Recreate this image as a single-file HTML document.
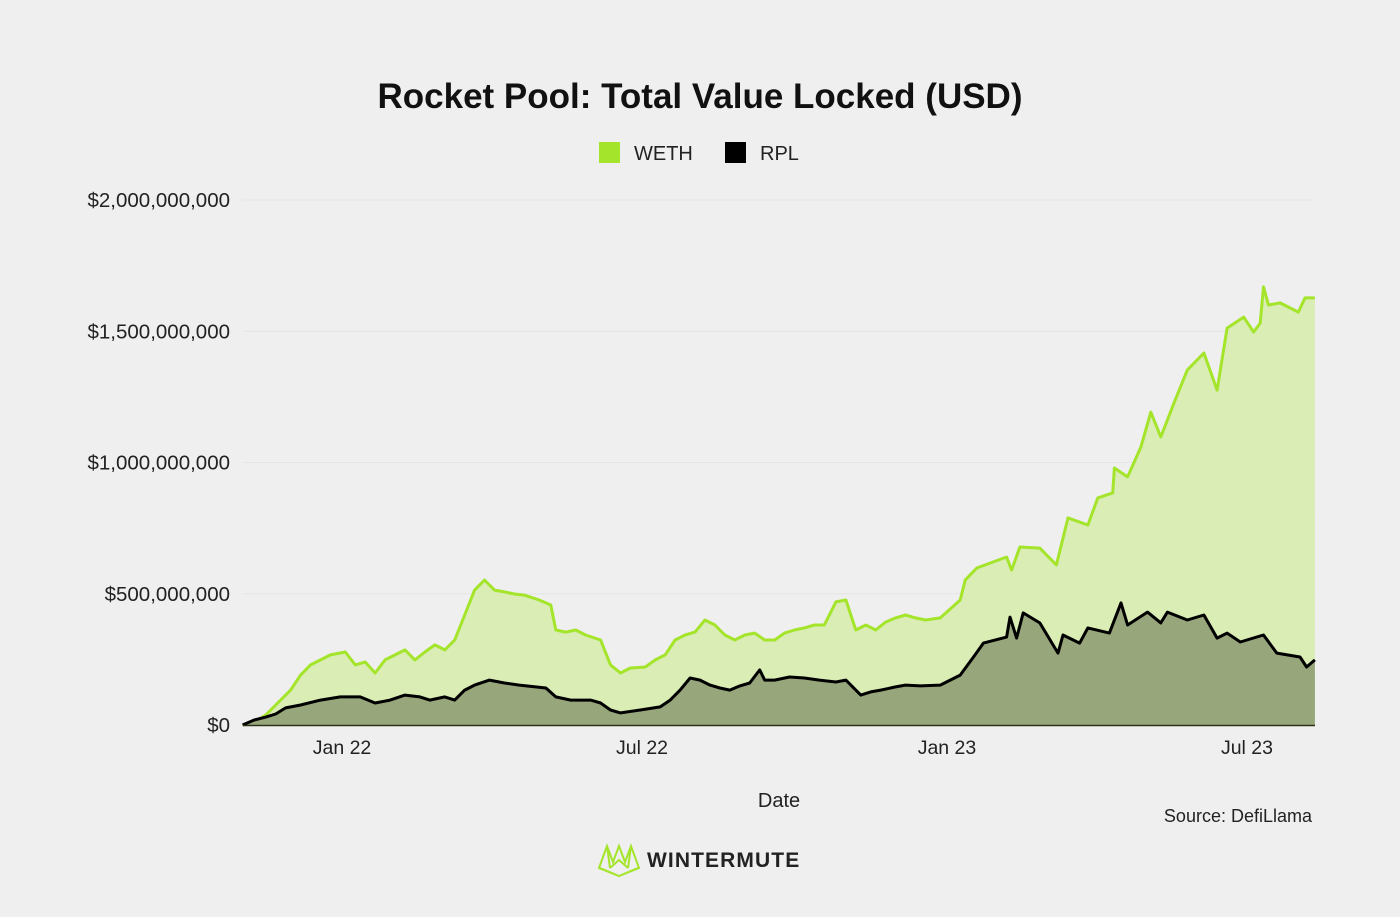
<!DOCTYPE html>
<html><head><meta charset="utf-8"><style>
html,body{margin:0;padding:0;background:#efefef;}
body{width:1400px;height:917px;overflow:hidden;font-family:"Liberation Sans",sans-serif;}
</style></head><body>
<svg id="chart" width="1400" height="917" xmlns="http://www.w3.org/2000/svg" style="position:absolute;left:0;top:0">
<rect width="1400" height="917" fill="#efefef"/>
<text x="700" y="108" text-anchor="middle" font-size="35" font-weight="bold" fill="#111">Rocket Pool: Total Value Locked (USD)</text>
<g>
<rect x="599" y="142" width="21" height="21" fill="#a4e52b"/>
<text x="634" y="160" font-size="20" fill="#222">WETH</text>
<rect x="725" y="142" width="21" height="21" fill="#000"/>
<text x="760" y="160" font-size="20" fill="#222">RPL</text>
</g>
<g id="grid"></g>
<g id="areas"></g>
<g id="yticks"></g>
<g id="xticks"></g>
<text x="779" y="807" text-anchor="middle" font-size="20" fill="#222">Date</text>
<text x="1312" y="822" text-anchor="end" font-size="18" fill="#222">Source: DefiLlama</text>
<g fill="none" stroke="#a4e52b" stroke-width="2">
<path d="M599 868 L607 846 L613 862 L619 846 L625 862 L631 846 L639 868 L619 876 Z M607 846 L610 868 M631 846 L628 868 M610 868 L619 860 L628 868 M600 868 L619 876 L638 868"/>
</g>
<text x="647" y="867" font-size="21" font-weight="bold" letter-spacing="1.1" fill="#222">WINTERMUTE</text>
</svg>
<script>
// day offsets from 2022-01-01; values in millions USD
const wethDays=[-60,-53,-46,-40,-31,-25,-19,-13,-7,2,8,14,20,26,32,38,44,50,56,62,68,74,80,86,92,98,104,110,119,126,129,135,141,147,156,162,168,174,183,189,195,201,207,213,219,225,231,237,243,249,255,261,267,273,279,285,291,298,304,310,316,322,328,334,340,346,352,361,373,376,383,401,404,409,421,431,438,450,456,465,466,474,482,488,494,502,510,520,528,534,544,550,554,556,559,566,577,581,587];
const wethVals=[0,11,38,76,133,190,229,248,267,278,229,240,198,248,267,286,248,278,305,286,324,419,514,552,514,507,499,495,476,457,362,354,362,343,324,229,198,217,221,248,267,324,343,354,400,381,343,324,343,350,324,324,350,362,370,381,381,469,476,362,381,362,392,408,419,408,400,408,476,552,598,640,590,678,674,610,789,762,865,884,979,945,1059,1192,1097,1227,1352,1417,1276,1512,1554,1497,1531,1669,1600,1608,1573,1627,1627];
const rplDays=[-60,-53,-46,-40,-34,-25,-13,-1,11,20,29,38,47,53,62,68,74,80,89,98,107,123,129,138,150,156,162,168,180,192,198,204,210,216,222,228,234,240,246,252,255,261,270,279,288,298,304,310,313,319,325,334,340,349,361,373,381,387,401,403,407,411,421,432,435,445,450,463,470,474,486,494,498,510,520,528,534,542,556,564,578,582,587];
const rplVals=[0,19,30,42,65,76,95,107,107,84,95,114,107,95,107,95,133,152,171,160,152,141,107,95,95,84,57,46,57,69,95,133,179,171,152,141,133,149,160,210,171,171,183,179,171,164,171,133,114,126,133,145,152,149,152,190,259,312,335,411,331,427,389,274,343,312,370,350,465,381,430,389,430,400,419,331,350,316,343,274,259,221,248];
const yTickVals=[0,500,1000,1500,2000];
const yTickLabels=["$0","$500,000,000","$1,000,000,000","$1,500,000,000","$2,000,000,000"];
const xTickDays=[0,181,365,546];
const xTickLabels=["Jan 22","Jul 22","Jan 23","Jul 23"];

const NS="http://www.w3.org/2000/svg";
const X0=243,X1=1315;
const xs=d=>342+d*(300/181);
const ys=v=>725-v*(525/2000);
function mk(tag,attrs,parent){const e=document.createElementNS(NS,tag);for(const k in attrs)e.setAttribute(k,attrs[k]);parent.appendChild(e);return e;}
const grid=document.getElementById('grid'),areas=document.getElementById('areas'),yt=document.getElementById('yticks'),xt=document.getElementById('xticks');
yTickVals.forEach((v,i)=>{
  if(v>0){const l=mk('line',{x1:X0,x2:X1,y1:ys(v),y2:ys(v),stroke:'#e6e6e6','stroke-width':1},grid);
  
  }
  const t=mk('text',{x:230,y:ys(v)+7,'text-anchor':'end','font-size':20.5,fill:'#222'},yt);
  t.textContent=yTickLabels[i];
  
  
});
xTickDays.forEach((d,i)=>{
  const t=mk('text',{x:xs(d),y:754,'text-anchor':'middle','font-size':19.5,fill:'#222'},xt);
  t.textContent=xTickLabels[i];
  
  
});
function series(days,vals,fill,stroke,name){
  const pts=days.map((d,i)=>xs(d).toFixed(1)+','+ys(vals[i]).toFixed(1));
  const a=mk('path',{d:'M'+xs(days[0])+','+ys(0)+' L'+pts.join(' L')+' L'+xs(days[days.length-1])+','+ys(0)+' Z',fill:fill},areas);
  
  
  const l=mk('path',{d:'M'+pts.join(' L'),fill:'none',stroke:stroke,'stroke-width':3,'stroke-linejoin':'round'},areas);
  
  
}
series(wethDays,wethVals,'#d9edb5','#a4e52b','weth');
series(rplDays,rplVals,'#98a67c','#000','rpl');
const b=mk('line',{x1:X0,x2:X1,y1:725.5,y2:725.5,stroke:'#2a3318','stroke-width':1.5},areas);


</script>
</body></html>
